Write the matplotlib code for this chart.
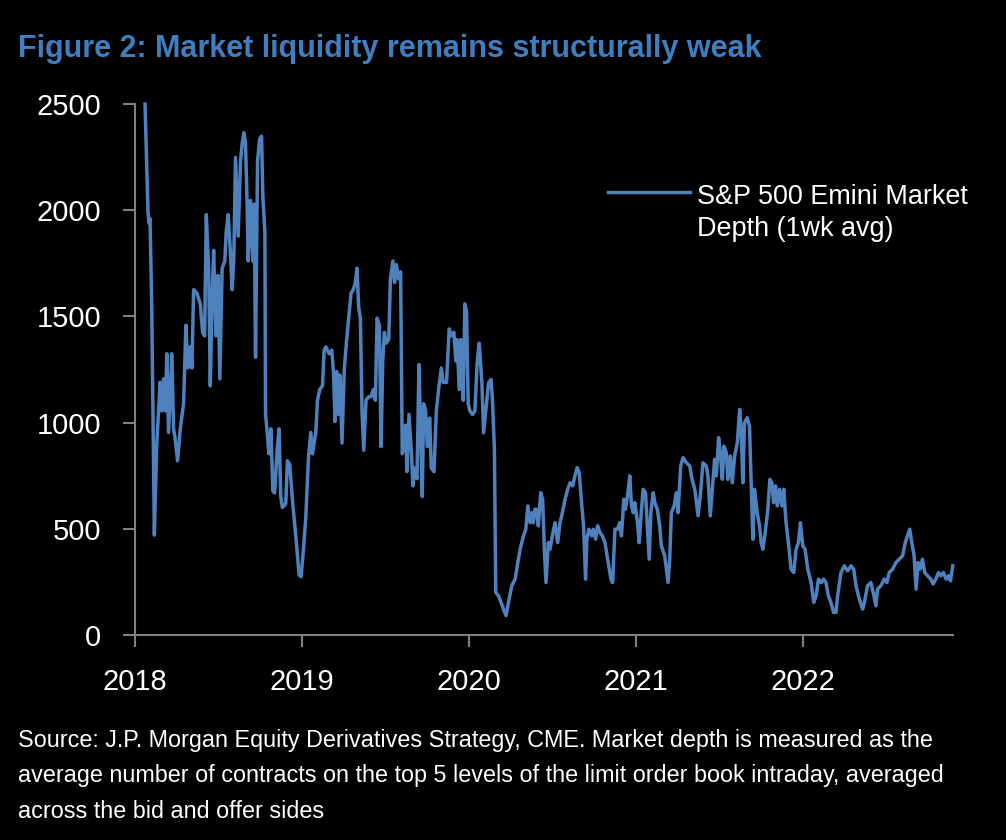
import matplotlib
matplotlib.use("Agg")
import matplotlib.pyplot as plt
from matplotlib import font_manager
from matplotlib.lines import Line2D

# ---------------- data (decimal year, contracts) ----------------
dates = [
    2018.060, 2018.078, 2018.084, 2018.090, 2018.100, 2018.116, 2018.130, 2018.150, 2018.160, 2018.171,
    2018.181, 2018.191, 2018.201, 2018.211, 2018.221, 2018.231, 2018.241, 2018.255, 2018.271, 2018.291,
    2018.305, 2018.317, 2018.331, 2018.341, 2018.351, 2018.371, 2018.391, 2018.405, 2018.417, 2018.427,
    2018.441, 2018.451, 2018.461, 2018.471, 2018.485, 2018.497, 2018.508, 2018.522, 2018.538, 2018.546,
    2018.558, 2018.572, 2018.582, 2018.592, 2018.602, 2018.618, 2018.632, 2018.642, 2018.652, 2018.662,
    2018.672, 2018.678, 2018.692, 2018.706, 2018.714, 2018.722, 2018.734, 2018.746, 2018.758, 2018.766,
    2018.778, 2018.782, 2018.792, 2018.802, 2018.814, 2018.826, 2018.836, 2018.853, 2018.863, 2018.873,
    2018.883, 2018.903, 2018.913, 2018.927, 2018.943, 2018.963, 2018.983, 2018.995, 2019.007, 2019.023,
    2019.039, 2019.053, 2019.063, 2019.083, 2019.093, 2019.107, 2019.123, 2019.133, 2019.143, 2019.163,
    2019.179, 2019.190, 2019.198, 2019.208, 2019.220, 2019.228, 2019.240, 2019.254, 2019.268, 2019.284,
    2019.294, 2019.308, 2019.320, 2019.330, 2019.340, 2019.350, 2019.360, 2019.370, 2019.384, 2019.400,
    2019.414, 2019.428, 2019.440, 2019.450, 2019.464, 2019.474, 2019.484, 2019.494, 2019.504, 2019.520,
    2019.530, 2019.545, 2019.555, 2019.565, 2019.579, 2019.591, 2019.601, 2019.611, 2019.621, 2019.629,
    2019.641, 2019.655, 2019.665, 2019.677, 2019.689, 2019.701, 2019.713, 2019.721, 2019.729, 2019.741,
    2019.751, 2019.765, 2019.775, 2019.791, 2019.805, 2019.821, 2019.835, 2019.846, 2019.866, 2019.882,
    2019.896, 2019.910, 2019.922, 2019.930, 2019.942, 2019.952, 2019.966, 2019.976, 2019.986, 2019.996,
    2020.006, 2020.022, 2020.036, 2020.050, 2020.062, 2020.078, 2020.088, 2020.102, 2020.118, 2020.133,
    2020.141, 2020.153, 2020.161, 2020.177, 2020.193, 2020.207, 2020.223, 2020.237, 2020.257, 2020.277,
    2020.293, 2020.307, 2020.327, 2020.341, 2020.353, 2020.367, 2020.377, 2020.386, 2020.396, 2020.406,
    2020.416, 2020.430, 2020.442, 2020.452, 2020.462, 2020.476, 2020.486, 2020.500, 2020.516, 2020.532,
    2020.546, 2020.560, 2020.576, 2020.592, 2020.606, 2020.622, 2020.635, 2020.649, 2020.661, 2020.675,
    2020.687, 2020.699, 2020.707, 2020.719, 2020.735, 2020.745, 2020.759, 2020.771, 2020.785, 2020.799,
    2020.815, 2020.835, 2020.851, 2020.861, 2020.875, 2020.890, 2020.904, 2020.914, 2020.928, 2020.938,
    2020.950, 2020.964, 2020.974, 2020.984, 2020.994, 2021.010, 2021.020, 2021.034, 2021.044, 2021.058,
    2021.070, 2021.080, 2021.090, 2021.104, 2021.114, 2021.129, 2021.143, 2021.153, 2021.173, 2021.193,
    2021.203, 2021.213, 2021.229, 2021.243, 2021.253, 2021.269, 2021.283, 2021.303, 2021.323, 2021.337,
    2021.353, 2021.373, 2021.388, 2021.402, 2021.422, 2021.432, 2021.446, 2021.458, 2021.472, 2021.482,
    2021.496, 2021.508, 2021.518, 2021.528, 2021.542, 2021.552, 2021.566, 2021.578, 2021.592, 2021.608,
    2021.622, 2021.631, 2021.641, 2021.651, 2021.667, 2021.681, 2021.691, 2021.701, 2021.711, 2021.727,
    2021.741, 2021.751, 2021.761, 2021.775, 2021.791, 2021.803, 2021.815, 2021.825, 2021.837, 2021.847,
    2021.861, 2021.875, 2021.886, 2021.900, 2021.914, 2021.930, 2021.946, 2021.960, 2021.974, 2021.986,
    2022.000, 2022.014, 2022.030, 2022.050, 2022.066, 2022.080, 2022.094, 2022.110, 2022.125, 2022.139,
    2022.153, 2022.169, 2022.185, 2022.199, 2022.209, 2022.229, 2022.249, 2022.269, 2022.289, 2022.305,
    2022.319, 2022.339, 2022.359, 2022.369, 2022.388, 2022.408, 2022.422, 2022.438, 2022.448, 2022.468,
    2022.488, 2022.504, 2022.518, 2022.538, 2022.558, 2022.578, 2022.598, 2022.614, 2022.627, 2022.641,
    2022.653, 2022.667, 2022.679, 2022.691, 2022.703, 2022.717, 2022.731, 2022.747, 2022.767, 2022.781,
    2022.797, 2022.813, 2022.827, 2022.843, 2022.859, 2022.873, 2022.885, 2022.899,
]
depth = [
    2500, 1990, 1940, 1960, 1560, 470, 890, 1190, 1055, 1206,
    1055, 1324, 954, 1139, 1324, 971, 921, 820, 971, 1089,
    1458, 1257, 1357, 1257, 1626, 1609, 1559, 1425, 1408, 1979,
    1727, 1173, 1559, 1811, 1408, 1693, 1206, 1727, 1761, 1895,
    1979, 1794, 1626, 1777, 2248, 1878, 2231, 2315, 2365, 2315,
    2013, 1761, 2046, 1761, 2029, 1307, 2231, 2332, 2349, 2063,
    1895, 1038, 954, 853, 971, 677, 669, 887, 971, 652,
    601, 618, 820, 803, 635, 467, 282, 274, 383, 551,
    837, 954, 853, 954, 1105, 1156, 1173, 1341, 1357, 1324,
    1341, 1223, 1005, 1240, 1038, 1223, 904, 1257, 1391, 1525,
    1609, 1626, 1660, 1727, 1542, 1492, 1055, 870, 1105, 1122,
    1122, 1156, 1105, 1492, 1458, 887, 1290, 1425, 1374, 1391,
    1677, 1761, 1660, 1744, 1677, 1710, 853, 887, 988, 769,
    1038, 870, 702, 786, 736, 1273, 887, 652, 1089, 1055,
    887, 1021, 786, 769, 1055, 1173, 1257, 1189, 1189, 1441,
    1408, 1425, 1290, 1391, 1156, 1391, 1105, 1559, 1525, 1089,
    1055, 1038, 1055, 1290, 1374, 1187, 952, 1062, 1187, 1203,
    1109, 874, 200, 185, 153, 122, 91, 153, 232, 263,
    341, 404, 467, 498, 608, 529, 576, 529, 592, 592,
    514, 670, 639, 404, 247, 435, 404, 467, 529, 435,
    529, 576, 639, 686, 717, 702, 749, 788, 764, 623,
    514, 263, 451, 498, 467, 498, 451, 514, 482, 467,
    435, 341, 263, 247, 498, 498, 529, 467, 639, 592,
    655, 749, 608, 576, 623, 529, 435, 592, 686, 670,
    498, 357, 576, 670, 623, 592, 514, 420, 373, 247,
    357, 576, 608, 670, 576, 796, 835, 811, 796, 733,
    686, 561, 670, 811, 796, 749, 561, 686, 827, 749,
    929, 843, 733, 889, 858, 733, 843, 717, 843, 905,
    1062, 968, 717, 999, 1023, 983, 717, 451, 686, 576,
    514, 435, 404, 482, 592, 733, 717, 623, 702, 608,
    686, 608, 686, 529, 435, 310, 294, 404, 435, 529,
    420, 404, 310, 247, 153, 185, 263, 247, 263, 247,
    185, 153, 106, 106, 185, 294, 326, 302, 326, 310,
    232, 169, 122, 153, 232, 247, 200, 138, 216, 232,
    263, 247, 294, 310, 341, 357, 373, 435, 467, 498,
    435, 373, 216, 341, 310, 357, 294, 279, 263, 240,
    263, 294, 279, 294, 263, 279, 255, 326,
]
year_ticks = [2018, 2019, 2020, 2021, 2022]
y_ticks = [0, 500, 1000, 1500, 2000, 2500]

title = "Figure 2: Market liquidity remains structurally weak"
series_label = ["S&P 500 Emini Market", "Depth (1wk avg)"]
source_lines = [
    "Source: J.P. Morgan Equity Derivatives Strategy, CME. Market depth is measured as the",
    "average number of contracts on the top 5 levels of the limit order book intraday, averaged",
    "across the bid and offer sides",
]

# ---------------- style ----------------
names = {f.name for f in font_manager.fontManager.ttflist}
if "Liberation Sans Narrow" in names:
    FONT = "Liberation Sans Narrow"
    k = 1.0
else:
    FONT = "Liberation Sans"
    k = 0.82
plt.rcParams["font.family"] = [FONT, "DejaVu Sans"]

BG = "black"
LINE = "#4f81bd"
TITLE_C = "#3f7fc0"
AXIS_C = "#808080"

W, H = 1006, 840
fig = plt.figure(figsize=(W / 100, H / 100), dpi=100, facecolor=BG)
ax = fig.add_axes([135 / W, 1 - 635 / H, (953 - 135) / W, (635 - 104) / H])
ax.set_facecolor(BG)

ax.plot(dates, depth, color=LINE, lw=2.5, clip_on=False, solid_joinstyle="round")

ax.set_xlim(2018, 2022.90)
ax.set_ylim(0, 2500)
ax.set_xticks(year_ticks)
ax.set_xticklabels([str(y) for y in year_ticks])
ax.set_yticks(y_ticks)

for s in ["top", "right"]:
    ax.spines[s].set_visible(False)
for s in ["left", "bottom"]:
    ax.spines[s].set_color(AXIS_C)
    ax.spines[s].set_linewidth(1.5)

ax.tick_params(axis="both", direction="out", length=8.5, width=1.5, color=AXIS_C,
               labelcolor="white", labelsize=25.5 * k)
ax.tick_params(axis="y", pad=16)
ax.tick_params(axis="x", pad=15)

# title
fig.text(18 / W, 1 - 57 / H, title, color=TITLE_C, fontsize=26.8 * k, fontweight="bold",
         ha="left", va="baseline")

# legend (manual)
LEG_FS = 25.5 * k * 0.93
fig.add_artist(Line2D([608 / W, 690 / W], [1 - 192 / H, 1 - 192 / H], color=LINE, lw=2.5,
                      transform=fig.transFigure))
fig.text(697 / W, 1 - 204 / H, series_label[0], color="white", fontsize=LEG_FS,
         ha="left", va="baseline")
fig.text(697 / W, 1 - 236.5 / H, series_label[1], color="white", fontsize=LEG_FS,
         ha="left", va="baseline")

# source note
for line, yb in zip(source_lines, [746.5, 782, 818]):
    fig.text(18 / W, 1 - yb / H, line, color="white", fontsize=20.5 * k,
             ha="left", va="baseline")

fig.savefig("out.png", dpi=100, facecolor=BG)
